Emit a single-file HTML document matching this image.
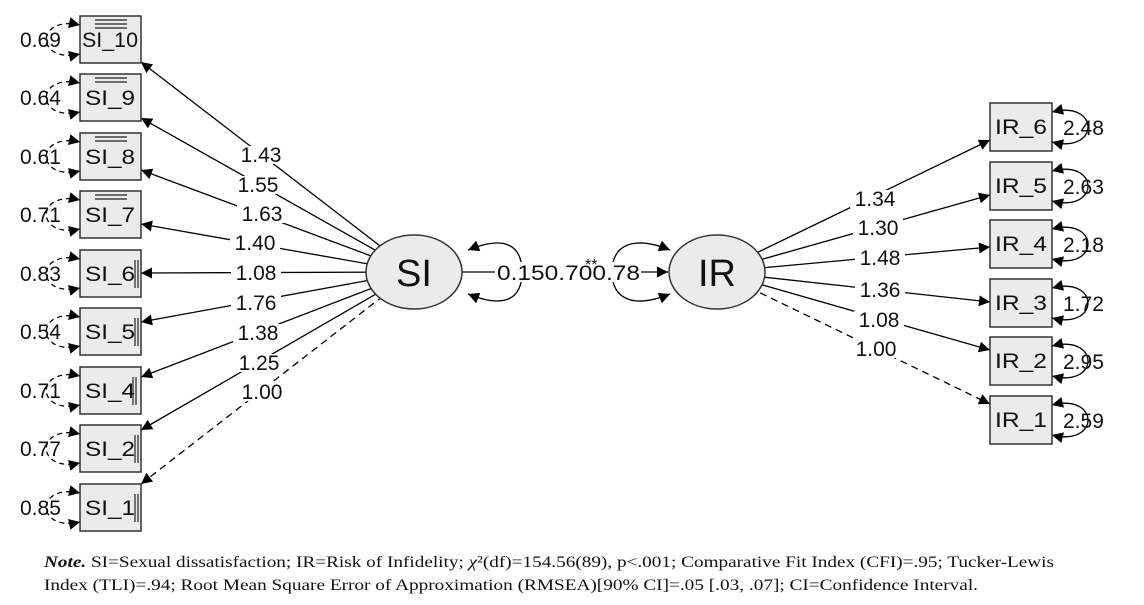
<!DOCTYPE html>
<html><head><meta charset="utf-8"><style>
html,body{margin:0;padding:0;background:#fff;}
svg{display:block;}
text{font-family:"Liberation Sans",Arial,sans-serif;}
.lb{font-size:21px;fill:#111;}
.bx{fill:#ebebeb;stroke:#333;stroke-width:1.5;}
.bt{font-size:21px;fill:#111;}
.note{font-family:"Liberation Serif","Times New Roman",serif;font-size:16px;fill:#111;}
</style></head><body>
<svg width="1144" height="605" viewBox="0 0 1144 605" xmlns="http://www.w3.org/2000/svg">
<defs>
<marker id="a" viewBox="0 0 10 10" refX="10" refY="5" markerWidth="15" markerHeight="11" markerUnits="userSpaceOnUse" orient="auto-start-reverse">
<path d="M0,0 L10,5 L0,10 z" fill="#000"/></marker>
</defs>
<g stroke="#000" stroke-width="1.3" fill="none">
<line x1="141" y1="62" x2="414" y2="272" marker-start="url(#a)"/>
<line x1="141" y1="118" x2="414" y2="272" marker-start="url(#a)"/>
<line x1="141" y1="170" x2="414" y2="272" marker-start="url(#a)"/>
<line x1="141" y1="224" x2="414" y2="272" marker-start="url(#a)"/>
<line x1="141" y1="273" x2="414" y2="272" marker-start="url(#a)"/>
<line x1="141" y1="322" x2="414" y2="272" marker-start="url(#a)"/>
<line x1="141" y1="377" x2="414" y2="272" marker-start="url(#a)"/>
<line x1="141" y1="430" x2="414" y2="272" marker-start="url(#a)"/>
<line x1="141" y1="484" x2="414" y2="272" stroke-dasharray="7,5" marker-start="url(#a)"/>
<line x1="717" y1="272" x2="990" y2="140" marker-end="url(#a)"/>
<line x1="717" y1="272" x2="990" y2="195" marker-end="url(#a)"/>
<line x1="717" y1="272" x2="990" y2="247" marker-end="url(#a)"/>
<line x1="717" y1="272" x2="990" y2="302" marker-end="url(#a)"/>
<line x1="717" y1="272" x2="990" y2="350" marker-end="url(#a)"/>
<line x1="717" y1="272" x2="990" y2="404" stroke-dasharray="7,5" marker-end="url(#a)"/>
<line x1="462" y1="272" x2="668" y2="272" marker-end="url(#a)"/>
<path d="M468,250 C505,235 522,245 522,272 C522,299 505,309 468,294" marker-start="url(#a)" marker-end="url(#a)"/>
<path d="M670,250 C633,235 612,245 612,272 C612,299 633,309 670,294" marker-start="url(#a)" marker-end="url(#a)"/>
<g stroke-dasharray="5,4">
<path d="M80,25 C35,15 35,64 80,54" marker-start="url(#a)" marker-end="url(#a)"/>
<path d="M80,83 C35,73 35,122 80,112" marker-start="url(#a)" marker-end="url(#a)"/>
<path d="M80,142 C35,132 35,181 80,171" marker-start="url(#a)" marker-end="url(#a)"/>
<path d="M80,200 C35,190 35,239 80,229" marker-start="url(#a)" marker-end="url(#a)"/>
<path d="M80,259 C35,249 35,298 80,288" marker-start="url(#a)" marker-end="url(#a)"/>
<path d="M80,317 C35,307 35,356 80,346" marker-start="url(#a)" marker-end="url(#a)"/>
<path d="M80,376 C35,366 35,415 80,405" marker-start="url(#a)" marker-end="url(#a)"/>
<path d="M80,434 C35,424 35,473 80,463" marker-start="url(#a)" marker-end="url(#a)"/>
<path d="M80,493 C35,483 35,532 80,522" marker-start="url(#a)" marker-end="url(#a)"/>
</g>
<path d="M1052,112 C1100,100 1100,154 1052,142" marker-start="url(#a)" marker-end="url(#a)"/>
<path d="M1052,171 C1100,159 1100,213 1052,201" marker-start="url(#a)" marker-end="url(#a)"/>
<path d="M1052,229 C1100,217 1100,271 1052,259" marker-start="url(#a)" marker-end="url(#a)"/>
<path d="M1052,288 C1100,276 1100,330 1052,318" marker-start="url(#a)" marker-end="url(#a)"/>
<path d="M1052,346 C1100,334 1100,388 1052,376" marker-start="url(#a)" marker-end="url(#a)"/>
<path d="M1052,405 C1100,393 1100,447 1052,435" marker-start="url(#a)" marker-end="url(#a)"/>
</g>
<ellipse cx="414" cy="272" rx="48" ry="37" fill="#ebebeb" stroke="#333" stroke-width="1.5"/>
<text x="414" y="286" font-size="38" text-anchor="middle" fill="#111">SI</text>
<ellipse cx="717" cy="272" rx="48" ry="37" fill="#ebebeb" stroke="#333" stroke-width="1.5"/>
<text x="717" y="286" font-size="38" text-anchor="middle" fill="#111">IR</text>
<g>
<rect class="bx" x="80" y="16" width="61" height="47"/><text class="bt" x="110" y="47" text-anchor="middle" textLength="56" lengthAdjust="spacingAndGlyphs">SI_10</text>
<rect class="bx" x="80" y="74" width="61" height="47"/><text class="bt" x="110" y="105" text-anchor="middle" textLength="50" lengthAdjust="spacingAndGlyphs">SI_9</text>
<rect class="bx" x="80" y="133" width="61" height="47"/><text class="bt" x="110" y="164" text-anchor="middle" textLength="50" lengthAdjust="spacingAndGlyphs">SI_8</text>
<rect class="bx" x="80" y="191" width="61" height="47"/><text class="bt" x="110" y="222" text-anchor="middle" textLength="50" lengthAdjust="spacingAndGlyphs">SI_7</text>
<rect class="bx" x="80" y="250" width="61" height="47"/><text class="bt" x="110" y="281" text-anchor="middle" textLength="50" lengthAdjust="spacingAndGlyphs">SI_6</text>
<rect class="bx" x="80" y="308" width="61" height="47"/><text class="bt" x="110" y="339" text-anchor="middle" textLength="50" lengthAdjust="spacingAndGlyphs">SI_5</text>
<rect class="bx" x="80" y="367" width="61" height="47"/><text class="bt" x="110" y="398" text-anchor="middle" textLength="50" lengthAdjust="spacingAndGlyphs">SI_4</text>
<rect class="bx" x="80" y="425" width="61" height="47"/><text class="bt" x="110" y="456" text-anchor="middle" textLength="50" lengthAdjust="spacingAndGlyphs">SI_2</text>
<rect class="bx" x="80" y="484" width="61" height="47"/><text class="bt" x="110" y="515" text-anchor="middle" textLength="50" lengthAdjust="spacingAndGlyphs">SI_1</text>
</g>
<g stroke="#222" stroke-width="1.2">
<line x1="95" y1="20" x2="127" y2="20"/><line x1="95" y1="24" x2="127" y2="24"/><line x1="95" y1="28" x2="127" y2="28"/>
<line x1="95" y1="78" x2="127" y2="78"/><line x1="95" y1="82" x2="127" y2="82"/>
<line x1="95" y1="137" x2="127" y2="137"/><line x1="95" y1="141" x2="127" y2="141"/>
<line x1="95" y1="195" x2="127" y2="195"/><line x1="95" y1="199" x2="127" y2="199"/>
<line x1="135" y1="260" x2="135" y2="288"/><line x1="138" y1="260" x2="138" y2="288"/>
<line x1="135" y1="318" x2="135" y2="346"/><line x1="138" y1="318" x2="138" y2="346"/>
<line x1="133" y1="377" x2="133" y2="405"/><line x1="136" y1="377" x2="136" y2="405"/>
<line x1="135" y1="435" x2="135" y2="463"/><line x1="138" y1="435" x2="138" y2="463"/>
<line x1="135" y1="494" x2="135" y2="522"/><line x1="138" y1="494" x2="138" y2="522"/>
</g>
<rect class="bx" x="990" y="103" width="62" height="48"/><text class="bt" x="1021" y="134" text-anchor="middle" textLength="52" lengthAdjust="spacingAndGlyphs">IR_6</text>
<rect class="bx" x="990" y="162" width="62" height="48"/><text class="bt" x="1021" y="193" text-anchor="middle" textLength="52" lengthAdjust="spacingAndGlyphs">IR_5</text>
<rect class="bx" x="990" y="220" width="62" height="48"/><text class="bt" x="1021" y="251" text-anchor="middle" textLength="52" lengthAdjust="spacingAndGlyphs">IR_4</text>
<rect class="bx" x="990" y="279" width="62" height="48"/><text class="bt" x="1021" y="310" text-anchor="middle" textLength="52" lengthAdjust="spacingAndGlyphs">IR_3</text>
<rect class="bx" x="990" y="337" width="62" height="48"/><text class="bt" x="1021" y="368" text-anchor="middle" textLength="52" lengthAdjust="spacingAndGlyphs">IR_2</text>
<rect class="bx" x="990" y="396" width="62" height="48"/><text class="bt" x="1021" y="427" text-anchor="middle" textLength="52" lengthAdjust="spacingAndGlyphs">IR_1</text>
<g fill="#fff">
<rect x="236" y="146" width="50" height="18"/><rect x="233" y="176" width="50" height="18"/><rect x="237" y="205" width="50" height="18"/>
<rect x="230" y="234" width="50" height="18"/><rect x="231" y="264" width="50" height="18"/><rect x="231" y="294" width="50" height="18"/>
<rect x="233" y="324" width="50" height="18"/><rect x="234" y="354" width="50" height="18"/><rect x="237" y="383" width="50" height="18"/>
<rect x="850" y="190" width="50" height="18"/><rect x="853" y="219" width="50" height="18"/><rect x="855" y="249" width="50" height="18"/>
<rect x="855" y="281" width="50" height="18"/><rect x="854" y="311" width="50" height="18"/><rect x="851" y="340" width="50" height="18"/>
<rect x="495" y="262" width="146" height="20"/>
</g>
<g class="lb" text-anchor="middle">
<text x="261" y="162">1.43</text><text x="258" y="192">1.55</text><text x="262" y="221">1.63</text>
<text x="255" y="250">1.40</text><text x="256" y="280">1.08</text><text x="256" y="310">1.76</text>
<text x="258" y="340">1.38</text><text x="259" y="370">1.25</text><text x="262" y="399">1.00</text>
<text x="875" y="206">1.34</text><text x="878" y="235">1.30</text><text x="880" y="265">1.48</text>
<text x="880" y="297">1.36</text><text x="879" y="327">1.08</text><text x="876" y="356">1.00</text>
</g>
<g class="lb">
<text x="20" y="47">0.69</text><text x="20" y="105">0.64</text><text x="20" y="164">0.61</text>
<text x="20" y="222">0.71</text><text x="20" y="281">0.83</text><text x="20" y="339">0.54</text>
<text x="20" y="398">0.71</text><text x="20" y="456">0.77</text><text x="20" y="515">0.85</text>
<text x="1063" y="135">2.48</text><text x="1063" y="194">2.63</text><text x="1063" y="252">2.18</text>
<text x="1063" y="311">1.72</text><text x="1063" y="369">2.95</text><text x="1063" y="428">2.59</text>
<text x="497" y="280" textLength="143" lengthAdjust="spacingAndGlyphs">0.150.700.78</text>
</g>
<text x="585" y="270" font-size="16" fill="#111">**</text>
<text class="note" x="44" y="567" textLength="1010" lengthAdjust="spacingAndGlyphs"><tspan font-weight="bold" font-style="italic">Note.</tspan> SI=Sexual dissatisfaction; IR=Risk of Infidelity; <tspan font-style="italic">χ</tspan>²(df)=154.56(89), p&lt;.001; Comparative Fit Index (CFI)=.95; Tucker-Lewis</text>
<text class="note" x="44" y="590" textLength="934" lengthAdjust="spacingAndGlyphs">Index (TLI)=.94; Root Mean Square Error of Approximation (RMSEA)[90% CI]=.05 [.03, .07]; CI=Confidence Interval.</text>
</svg>
</body></html>
